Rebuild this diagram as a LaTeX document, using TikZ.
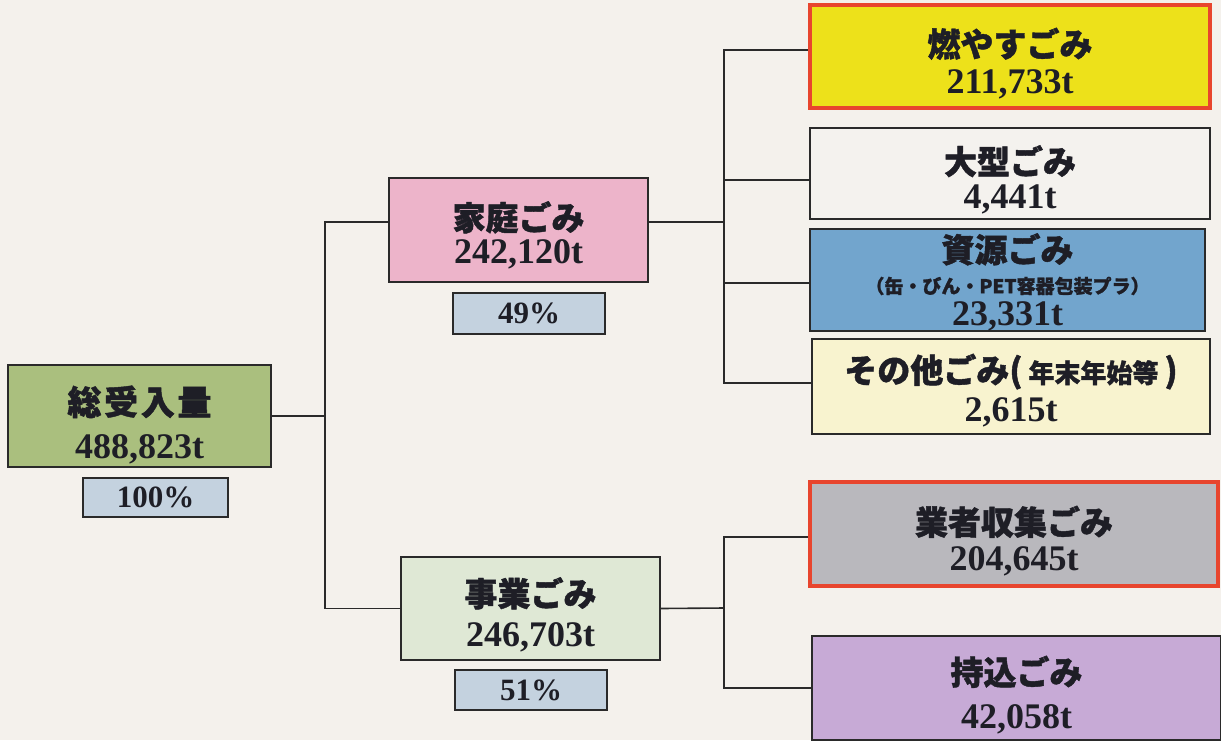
\documentclass[tikz,border=0pt]{standalone}
\usepackage{fontspec}
\setmainfont{Liberation Serif}
\newfontfamily\jp{Noto Sans CJK JP}[BoldFeatures={FakeBold=1.3}]
\definecolor{bgc}{HTML}{F4F1EC}
\definecolor{txt}{HTML}{1E1E26}
\definecolor{lnc}{HTML}{2A2A2A}
\definecolor{cgreen}{HTML}{AABF7E}
\definecolor{cpct}{HTML}{C4D2DF}
\definecolor{cpink}{HTML}{EDB4CA}
\definecolor{cbiz}{HTML}{DFE8D5}
\definecolor{cyel}{HTML}{EDE11A}
\definecolor{cred}{HTML}{E8452E}
\definecolor{clarge}{HTML}{F4F2EE}
\definecolor{cblue}{HTML}{72A5CD}
\definecolor{ccream}{HTML}{F8F3CF}
\definecolor{cgray}{HTML}{B9B8BD}
\definecolor{cpurp}{HTML}{C7AAD6}
\newcommand\jt[1]{{\fontsize{33}{38}\selectfont\jp\bfseries #1}}
\newcommand\jtw[1]{{\fontsize{34}{38}\selectfont\jp\bfseries\addfontfeatures{LetterSpace=8} #1}}
\newcommand\js[1]{{\fontsize{26}{30}\selectfont\jp\bfseries #1}}
\newcommand\jss[1]{{\fontsize{19}{20}\selectfont\jp\bfseries #1}}
\newcommand\nm[1]{{\fontsize{36}{38}\selectfont\bfseries #1}}
\newcommand\pc[1]{{\fontsize{31}{32}\selectfont\bfseries #1}}
\begin{document}
\begin{tikzpicture}[x=1pt,y=-1pt,
  box/.style={draw=lnc,line width=1.6pt,rectangle,inner sep=0pt},
  redbox/.style={box,draw=cred,line width=3.5pt},
  lbl/.style={inner sep=0pt,align=center,text=txt,font=\fontsize{33}{39}\selectfont},
  conn/.style={draw=lnc,line width=1.6pt}]
\fill[bgc] (0,0) rectangle (1221,740);
\useasboundingbox (0,0) rectangle (1221,740);
% level 0
\node[box,fill=cgreen,minimum width=263pt,minimum height=102pt] (total) at (139.5,416) {};
\node[lbl] (total-t) at ([yshift=-9pt]total.center) {\jtw{総受入量}\\[5pt]\nm{488,823t}};
\node[box,fill=cpct,minimum width=145pt,minimum height=39pt] (p100) at (155.5,497.5) {};
\node[lbl] (p100-t) at (p100.center) {\pc{100\%}};
% level 1
\node[box,fill=cpink,minimum width=259pt,minimum height=104pt] (home) at (518.5,230) {};
\node[lbl] (home-t) at ([yshift=-5pt]home.center) {\jt{家庭ごみ}\\[-6pt]\nm{242,120t}};
\node[box,fill=cpct,minimum width=152pt,minimum height=41pt] (p49) at (529,313.5) {};
\node[lbl] (p49-t) at (p49.center) {\pc{49\%}};
\node[box,fill=cbiz,minimum width=259pt,minimum height=103pt] (biz) at (530.5,608.5) {};
\node[lbl] (biz-t) at ([yshift=-6pt]biz.center) {\jt{事業ごみ}\\[1pt]\nm{246,703t}};
\node[box,fill=cpct,minimum width=152pt,minimum height=40pt] (p51) at (531,690) {};
\node[lbl] (p51-t) at (p51.center) {\pc{51\%}};
% level 2
\node[redbox,fill=cyel,minimum width=400pt,minimum height=103pt] (burn) at (1010,56.5) {};
\node[lbl] (burn-t) at ([yshift=-7pt]burn.center) {\jt{燃やすごみ}\\[-2pt]\nm{211,733t}};
\node[box,fill=clarge,minimum width=400pt,minimum height=91pt] (large) at (1010,173.5) {};
\node[lbl] (large-t) at ([yshift=-6pt]large.center) {\jt{大型ごみ}\\[-5pt]\nm{4,441t}};
\node[box,fill=cblue,minimum width=395pt,minimum height=102pt] (res) at (1007.5,280) {};
\node[lbl] (res-t) at ([yshift=-2pt]res.center) {\jt{資源ごみ}\\[-8pt]\jss{（缶・びん・PET容器包装プラ）}\\[-7pt]\nm{23,331t}};
\node[box,fill=ccream,minimum width=398pt,minimum height=95pt] (other) at (1011,386.5) {};
\node[lbl] (other-t) at ([yshift=-4pt]other.center) {\jt{その他ごみ(}\js{ 年末年始等 }\jt{)}\\\nm{2,615t}};
\node[redbox,fill=cgray,minimum width=408pt,minimum height=104pt] (coll) at (1014,534) {};
\node[lbl] (coll-t) at ([yshift=-7pt]coll.center) {\jt{業者収集ごみ}\\[-3pt]\nm{204,645t}};
\node[box,fill=cpurp,minimum width=409pt,minimum height=104pt] (bring) at (1016.5,688) {};
\node[lbl] (bring-t) at ([yshift=-7pt]bring.center) {\jt{持込ごみ}\\[5pt]\nm{42,058t}};
% connectors
\coordinate (j1) at (325,416);
\coordinate (j2) at (724,222);
\coordinate (j3) at (724,608);
\draw[conn] (total.east) -- (j1);
\draw[conn] (j1) |- ([yshift=8pt]home.west);
\draw[conn] (j1) |- (biz.west);
\draw[conn] ([yshift=8pt]home.east) -- (j2);
\draw[conn] (j2) |- ([yshift=6.5pt]burn.west);
\draw[conn] (j2) |- ([yshift=-6.5pt]large.west);
\draw[conn] (j2) |- ([yshift=-3pt]res.west);
\draw[conn] (j2) |- ([yshift=3.5pt]other.west);
\draw[conn] (biz.east) -- (j3);
\draw[conn] (j3) |- ([yshift=-3pt]coll.west);
\draw[conn] (j3) |- (bring.west);
\end{tikzpicture}
\end{document}
